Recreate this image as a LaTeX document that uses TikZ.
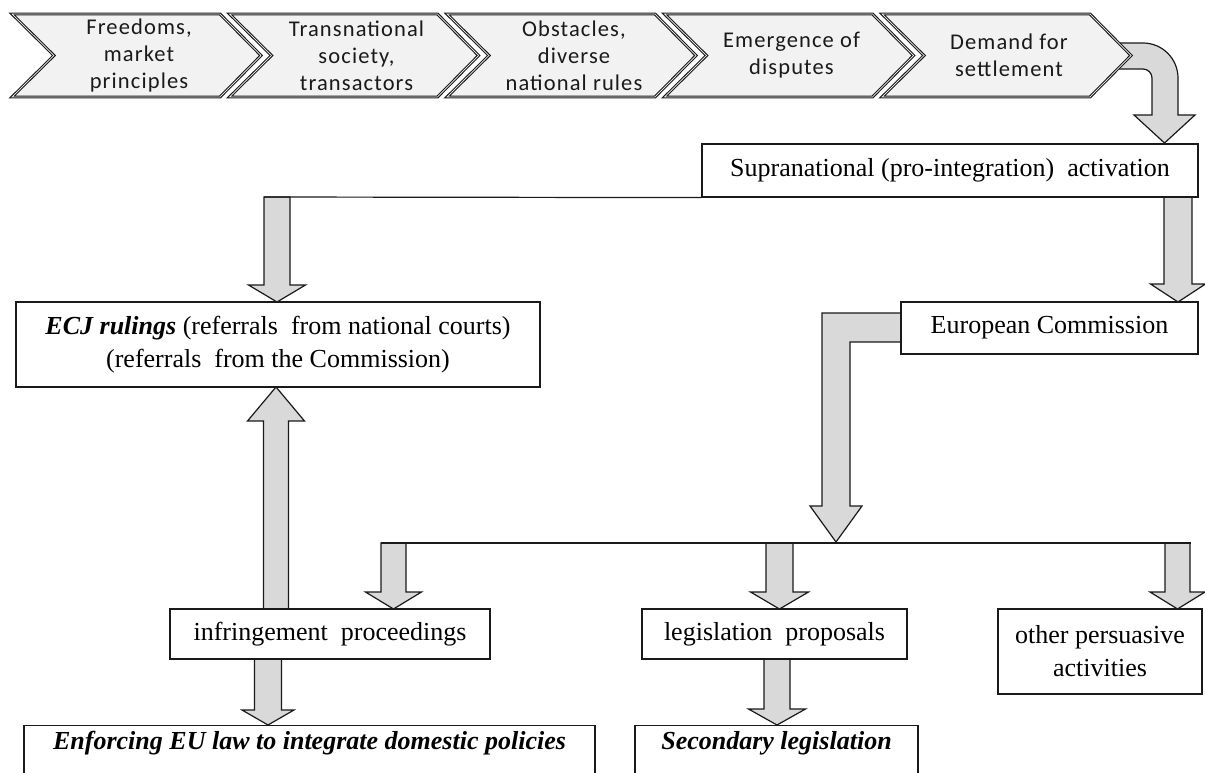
\documentclass[tikz,border=0pt]{standalone}
\usepackage{fontspec}
\setmainfont{Liberation Serif}
\newfontfamily\chevfont[LetterSpace=5]{Carlito}
\definecolor{arrowgray}{HTML}{D9D9D9}
\definecolor{chevgray}{HTML}{F2F2F2}
\definecolor{ink}{HTML}{1A1A1A}
\tikzset{
  box/.style={draw=ink, line width=1.2pt, fill=white, inner sep=0pt, align=center,
              font=\fontsize{26}{33}\selectfont},
  blk/.style={draw=ink, line width=1.2pt, fill=arrowgray, line join=miter},
  conn/.style={draw=ink, line width=1.2pt},
  chevshape/.style={draw=ink, line width=1.1pt, double=chevgray, double distance=0.7pt, fill=chevgray, line join=miter},
  chevtext/.style={align=center, inner sep=0pt, font=\chevfont\fontsize{22.5}{27}\selectfont, text=ink}
}
% block arrow: centre x, start y, tip y, shaft width, head width, head length (negative for upward)
\newcommand{\blockarrow}[6]{%
  \filldraw[blk] ({#1-#4/2},#2) -- ({#1-#4/2},{#3-#6}) -- ({#1-#5/2},{#3-#6}) -- (#1,#3)
    -- ({#1+#5/2},{#3-#6}) -- ({#1+#4/2},{#3-#6}) -- ({#1+#4/2},#2) -- cycle;}
\newcommand{\chevron}[4]{% name, left x, text, text y
  \filldraw[chevshape] (#2,14) -- ({#2+208},14) -- ({#2+249},55.5) -- ({#2+208},97) -- (#2,97) -- ({#2+42},55.5) -- cycle;
  \node[chevtext] (#1) at ({#2+127},#4) {#3};}
\begin{document}
\begin{tikzpicture}[x=1pt,y=-1pt]
\useasboundingbox (0,0) rectangle (1205,773);
\clip (0,0) rectangle (1205,773);
\fill[white] (0,0) rectangle (1205,773);

% curved arrow from the last chevron (behind it)
\filldraw[blk] (1090,43) -- (1143,43) arc (-90:0:35) -- (1178,115) -- (1195,115) -- (1164.5,143)
  -- (1134,115) -- (1152,115) -- (1152,78) arc (0:-90:9) -- (1090,69) -- cycle;

% chevrons
\chevron{c1}{12}{Freedoms,\\market\\principles}{56}
\chevron{c2}{229.5}{Transnational\\society,\\transactors}{56}
\chevron{c3}{447}{Obstacles,\\diverse\\national rules}{56}
\chevron{c4}{664.5}{Emergence of\\disputes}{55.5}
\chevron{c5}{882}{Demand for\\settlement}{55.5}

% connector end points
\coordinate (h1l) at (264,197);
\coordinate (h2l) at (381,543);
\coordinate (h2r) at (1191,543);

% block arrows
\blockarrow{277}{197}{302}{26}{57}{17}
\blockarrow{1178}{197}{302}{28}{55}{18}
\blockarrow{276}{609}{387}{25}{57}{-34}
\blockarrow{393.5}{543}{609}{25}{56}{17}
\blockarrow{779.5}{543}{609}{27}{58}{17}
\blockarrow{1177.5}{543}{609}{25}{55}{17}
\blockarrow{268}{659}{725}{27}{52}{15}
\blockarrow{777}{659}{725}{26}{57}{16}
% L-shaped arrow from European Commission
\filldraw[blk] (901,313) -- (822,313) -- (822,506) -- (810,506) -- (836,542) -- (862,506)
  -- (850,506) -- (850,342) -- (901,342) -- cycle;

% boxes
\node[box, minimum width=496pt, minimum height=53pt] (supra) at (950,170.5)
  {Supranational (pro-integration)\ \ activation};
\draw[conn] (h1l) -- (supra.south west);
\draw[conn] (h2l) -- (h2r);

\node[box, minimum width=524pt, minimum height=85pt] (ecj) at (278,344.5)
  {\textbf{\textit{ECJ rulings}} (referrals\ \ from national courts)\\(referrals\ \ from the Commission)};
\node[box, minimum width=297pt, minimum height=52pt] (ec) at (1049.5,328) {European Commission};
\node[box, minimum width=320pt, minimum height=50pt] (inf) at (330,634) {infringement\ \ proceedings};
\node[box, minimum width=265pt, minimum height=50pt] (leg) at (774.5,634) {legislation\ \ proposals};
\node[box, minimum width=204pt, minimum height=85pt] (oth) at (1100,651.5) {other persuasive\\activities};
\node[box, anchor=north, minimum width=571pt, inner ysep=6pt, text height=18pt, text depth=45pt] (enf) at (309.5,725)
  {\textbf{\textit{Enforcing EU law to integrate domestic policies}}};
\node[box, anchor=north, minimum width=283pt, inner ysep=6pt, text height=18pt, text depth=45pt] (sec) at (776.5,725)
  {\textbf{\textit{Secondary legislation}}};
\end{tikzpicture}
\end{document}
